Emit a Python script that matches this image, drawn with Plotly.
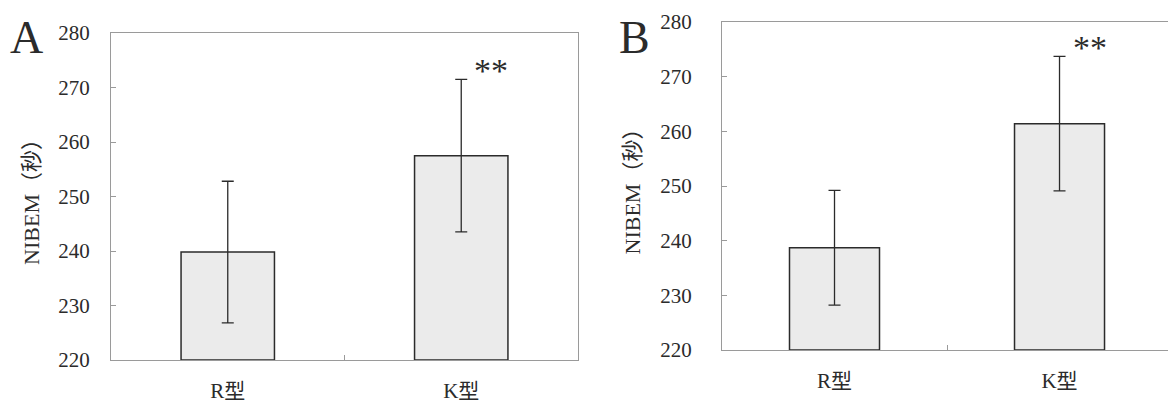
import plotly.graph_objects as go

categories = ["R型", "K型"]
a_means = [239.8, 257.5]
a_sd = [13.0, 14.0]
b_means = [238.7, 261.4]
b_sd = [10.5, 12.3]
y_ticks = [220, 230, 240, 250, 260, 270, 280]
sig_marks = ["", "**"]

SERIF = "Liberation Serif, Noto Sans CJK JP, serif"
INK = "#2b2b2b"
FILL = "#ebebeb"

W, H = 1168, 400  # page has an 8px body margin

fig = go.Figure()

for i, (means, sds) in enumerate([(a_means, a_sd), (b_means, b_sd)]):
    xa = "x" if i == 0 else "x2"
    ya = "y" if i == 0 else "y2"
    fig.add_trace(go.Bar(
        x=categories, y=[m - 220 for m in means], base=220,
        width=0.4, marker=dict(color=FILL, line=dict(color=INK, width=1.5)),
        error_y=dict(type="data", array=sds, visible=True, color=INK,
                     thickness=1.3, width=6),
        xaxis=xa, yaxis=ya, showlegend=False,
    ))
    for c, m, s, mark in zip(categories, means, sds, sig_marks):
        if mark:
            fig.add_annotation(x=c, y=m + s, xref=xa, yref=ya, text=mark,
                               showarrow=False, xshift=30, yshift=9,
                               font=dict(family=SERIF, size=34, color=INK))

axis_common = dict(showline=True, linecolor="#9a9a9a", linewidth=1.2, mirror=True,
                   ticks="inside", tickcolor="#9a9a9a", ticklen=5, showgrid=False,
                   zeroline=False, automargin=False)

fig.update_layout(
    width=W, height=H, margin=dict(l=0, r=0, t=0, b=0),
    paper_bgcolor="white", plot_bgcolor="white",
    font=dict(family=SERIF, color=INK, size=20),
    xaxis=dict(domain=[0.0882, 0.4880], anchor="y", tickson="boundaries",
               tickfont=dict(family=SERIF, size=21), ticklabelstandoff=12, **axis_common),
    yaxis=dict(domain=[0.12, 0.9375], anchor="x", range=[220, 280],
               tickvals=y_ticks, tickfont=dict(family=SERIF, size=21), ticklabelstandoff=16,
               title=dict(text="NIBEM（秒）", standoff=12, font=dict(family=SERIF, size=22)),
               **axis_common),
    xaxis2=dict(domain=[0.6113, 0.9966], anchor="y2", tickson="boundaries",
                tickfont=dict(family=SERIF, size=21), ticklabelstandoff=12, **axis_common),
    yaxis2=dict(domain=[0.145, 0.965], anchor="x2", range=[220, 280],
                tickvals=y_ticks, tickfont=dict(family=SERIF, size=21), ticklabelstandoff=25,
                title=dict(text="NIBEM（秒）", standoff=13, font=dict(family=SERIF, size=22)),
                **axis_common),
)

fig.add_annotation(x=0.0, y=0.995, xref="paper", yref="paper", text="A",
                   showarrow=False, xanchor="left", yanchor="top",
                   font=dict(family=SERIF, size=46, color=INK))
fig.add_annotation(x=0.521, y=0.995, xref="paper", yref="paper", text="B",
                   showarrow=False, xanchor="left", yanchor="top",
                   font=dict(family=SERIF, size=46, color=INK))

fig.write_html("out.html")
